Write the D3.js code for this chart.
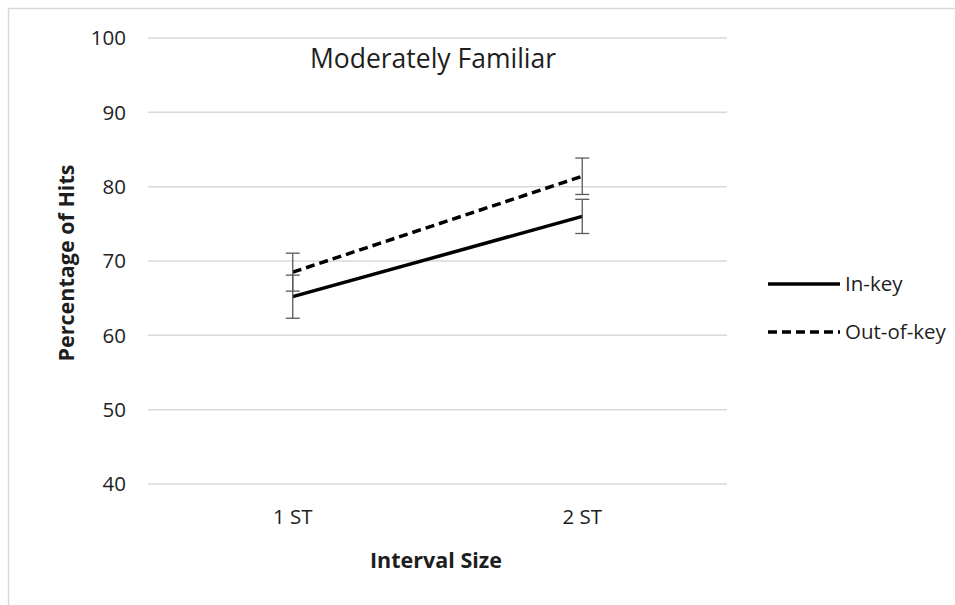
<!DOCTYPE html>
<html>
<head>
<meta charset="utf-8">
<script src="https://cdn.jsdelivr.net/npm/d3@7"></script>
<style>
  body { margin: 0; background: #fff; }
  text { font-family: "Open Sans", sans-serif; fill: #1e1e1e; }
</style>
</head>
<body>
<svg id="chart" width="955" height="605"></svg>
<script>
const categories = ["1 ST", "2 ST"];
const yTicks = [40, 50, 60, 70, 80, 90, 100];
const seriesNames = ["In-key", "Out-of-key"];
const inKey = [65.2, 76.0];
const inKeyErr = [2.9, 2.3];
const outKey = [68.5, 81.4];
const outKeyErr = [2.55, 2.45];

const series = [
  { name: seriesNames[0], values: inKey, err: inKeyErr, dash: null },
  { name: seriesNames[1], values: outKey, err: outKeyErr, dash: "9,5" }
];

const svg = d3.select("#chart");

// chart frame
svg.append("rect").attr("x", 8.5).attr("y", 8.5).attr("width", 960).attr("height", 620)
  .attr("fill", "none").attr("stroke", "#d9d9d9").attr("stroke-width", 1.5);

const x = d3.scaleBand().domain(categories).range([148, 727]);
const y = d3.scaleLinear().domain([40, 100]).range([484, 38]);

// gridlines
svg.append("g").selectAll("line").data(yTicks).enter().append("line")
  .attr("x1", 148).attr("x2", 727)
  .attr("y1", d => y(d)).attr("y2", d => y(d))
  .attr("stroke", "#d9d9d9").attr("stroke-width", 1.5);

// y tick labels
svg.append("g").selectAll("text").data(yTicks).enter().append("text")
  .attr("x", 126).attr("y", d => y(d)).attr("dy", "0.35em")
  .attr("text-anchor", "end").style("font-size", "20.5px").text(d => d);

// x tick labels
svg.append("g").selectAll("text").data(categories).enter().append("text")
  .attr("x", d => x(d) + x.bandwidth() / 2).attr("y", 524)
  .attr("text-anchor", "middle").style("font-size", "20.5px").text(d => d);

// titles
svg.append("text").attr("x", 433).attr("y", 68).attr("text-anchor", "middle")
  .style("font-size", "26.5px").text("Moderately Familiar");
svg.append("text").attr("x", 436).attr("y", 568).attr("text-anchor", "middle")
  .style("font-size", "21.5px").style("font-weight", "bold").text("Interval Size");
svg.append("text").attr("transform", "translate(74,263) rotate(-90)").attr("text-anchor", "middle")
  .style("font-size", "21.5px").style("font-weight", "bold").text("Percentage of Hits");

const cx = c => x(c) + x.bandwidth() / 2;
const line = d3.line().x((d, i) => cx(categories[i])).y(d => y(d));

series.forEach(s => {
  svg.append("path").datum(s.values)
    .attr("fill", "none").attr("stroke", "#000").attr("stroke-width", 3.5)
    .attr("stroke-dasharray", s.dash).attr("d", line);
});

// error bars
series.forEach(s => {
  const g = svg.append("g").attr("stroke", "#595959").attr("stroke-width", 1.3);
  s.values.forEach((v, i) => {
    const px = cx(categories[i]);
    g.append("line").attr("x1", px).attr("x2", px)
      .attr("y1", y(v + s.err[i])).attr("y2", y(v - s.err[i]));
    [v + s.err[i], v - s.err[i]].forEach(e => {
      g.append("line").attr("x1", px - 7).attr("x2", px + 7)
        .attr("y1", y(e)).attr("y2", y(e));
    });
  });
});

// legend
const legend = svg.append("g").selectAll("g").data(series).enter().append("g")
  .attr("transform", (d, i) => `translate(768,${284 + i * 48})`);
legend.append("line").attr("x1", 0).attr("x2", 72)
  .attr("stroke", "#000").attr("stroke-width", 3.5).attr("stroke-dasharray", d => d.dash);
legend.append("text").attr("x", 77).attr("dy", "0.35em")
  .style("font-size", "20.5px").text(d => d.name);
</script>
</body>
</html>
